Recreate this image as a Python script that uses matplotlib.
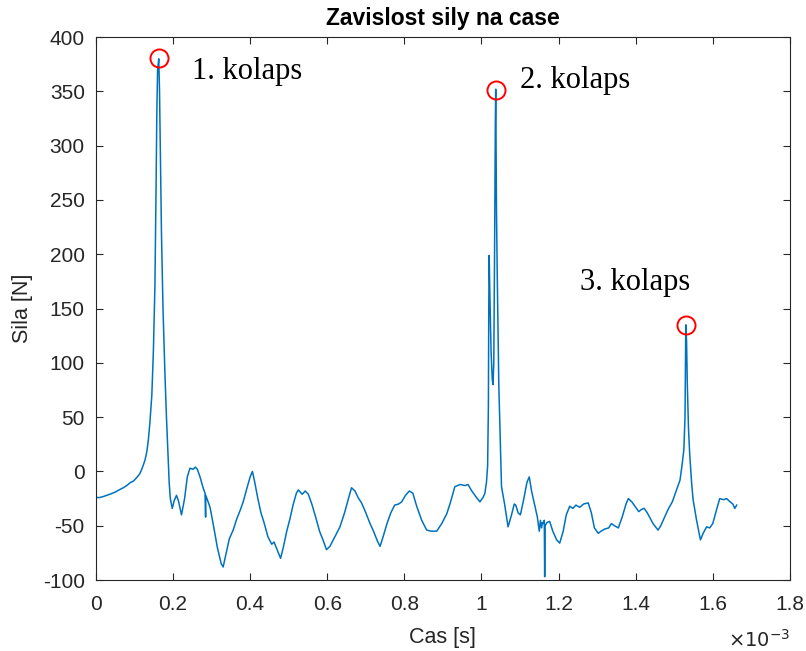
import matplotlib.pyplot as plt
from matplotlib.ticker import FuncFormatter, MultipleLocator

# cas v milisekundach (osa je v sekundach, x10^-3)
cas_ms = [
    0.000, 0.010, 0.020, 0.036, 0.050, 0.060, 0.071, 0.080, 0.090, 0.097,
    0.105, 0.114, 0.120, 0.127, 0.132, 0.136, 0.140, 0.145, 0.149, 0.153,
    0.156, 0.158, 0.160, 0.163, 0.165, 0.167, 0.170, 0.174, 0.179, 0.183,
    0.187, 0.190, 0.193, 0.198, 0.203, 0.209, 0.214, 0.222, 0.230, 0.237,
    0.244, 0.252, 0.258, 0.263, 0.270, 0.278, 0.283, 0.2845, 0.285, 0.290,
    0.296, 0.305, 0.315, 0.325, 0.330, 0.338, 0.346, 0.356, 0.365, 0.375,
    0.382, 0.392, 0.400, 0.406, 0.412, 0.420, 0.428, 0.436, 0.446, 0.456,
    0.462, 0.470, 0.479, 0.486, 0.495, 0.503, 0.512, 0.520, 0.525, 0.535,
    0.543, 0.551, 0.560, 0.570, 0.580, 0.590, 0.598, 0.607, 0.620, 0.633,
    0.645, 0.655, 0.663, 0.672, 0.680, 0.689, 0.700, 0.711, 0.720, 0.730,
    0.737, 0.745, 0.755, 0.765, 0.775, 0.785, 0.793, 0.803, 0.813, 0.822,
    0.832, 0.845, 0.858, 0.870, 0.884, 0.897, 0.910, 0.920, 0.931, 0.945,
    0.957, 0.965, 0.975, 0.985, 0.996, 1.004, 1.009, 1.013, 1.016, 1.018,
    1.019, 1.020, 1.022, 1.025, 1.028, 1.030, 1.032, 1.034, 1.036, 1.037,
    1.039, 1.041, 1.043, 1.045, 1.048, 1.050, 1.052, 1.060, 1.069, 1.078,
    1.085, 1.089, 1.095, 1.101, 1.110, 1.118, 1.124, 1.130, 1.138, 1.145,
    1.150, 1.153, 1.156, 1.158, 1.160, 1.163, 1.164, 1.165, 1.170, 1.177,
    1.185, 1.195, 1.203, 1.212, 1.220, 1.229, 1.237, 1.245, 1.255, 1.265,
    1.277, 1.285, 1.293, 1.303, 1.310, 1.320, 1.330, 1.337, 1.345, 1.355,
    1.365, 1.375, 1.381, 1.390, 1.400, 1.408, 1.415, 1.422, 1.430, 1.445,
    1.458, 1.465, 1.475, 1.484, 1.495, 1.505, 1.515, 1.520, 1.525, 1.528,
    1.530, 1.532, 1.534, 1.537, 1.540, 1.545, 1.549, 1.558, 1.568, 1.575,
    1.584, 1.592, 1.600, 1.610, 1.618, 1.628, 1.636, 1.645, 1.652, 1.657,
    1.662,
]
sila = [
    -24, -24, -23, -21, -19, -17, -15, -13, -10, -9,
    -6, -2, 3, 10, 18, 29, 45, 70, 110, 170,
    260, 330, 370, 380, 350, 300, 220, 150, 90, 50,
    15, -10, -25, -34, -27, -22, -27, -40, -25, -5,
    3, 2, 4, 2, -5, -15, -20, -42, -22, -27,
    -33, -50, -70, -85, -88, -75, -62, -54, -44, -35,
    -28, -15, -5, 0, -10, -25, -38, -47, -60, -67,
    -65, -72, -80, -70, -55, -44, -30, -20, -17, -21,
    -18, -21, -30, -42, -55, -64, -72, -69, -60, -51,
    -38, -25, -15, -18, -24, -29, -38, -48, -55, -64,
    -69, -60, -48, -38, -31, -30, -28, -22, -18, -20,
    -32, -45, -54, -55, -55, -48, -39, -28, -14, -12,
    -13, -12, -18, -23, -28, -24, -20, -10, 5, 60,
    150, 199, 160, 110, 85, 80, 100, 200, 320, 352,
    240, 180, 130, 80, 40, 10, -14, -30, -51, -40,
    -30, -31, -38, -40, -25, -10, -5, -18, -31, -42,
    -55, -45, -52, -47, -48, -45, -97, -50, -47, -46,
    -55, -63, -66, -55, -40, -32, -34, -31, -33, -30,
    -29, -38, -52, -57, -55, -53, -52, -48, -50, -52,
    -42, -30, -25, -28, -33, -37, -35, -34, -38, -48,
    -54, -50, -42, -35, -28, -18, -8, 5, 20, 50,
    135, 120, 80, 40, 17, -10, -26, -45, -63, -57,
    -51, -52, -48, -35, -25, -26, -25, -28, -30, -34,
    -31,
]

# kolapsy (vrcholy oznacene krouzkem)
kolaps_cas_ms = [0.163, 1.037, 1.531]
kolaps_sila = [381, 351, 135]
kolaps_popisky = ["1. kolaps", "2. kolaps", "3. kolaps"]
popisek_x_ms = [0.249, 1.100, 1.255]
popisek_y = [368, 360, 174]

plt.rcParams["font.family"] = ["Liberation Sans", "DejaVu Sans"]
plt.rcParams["axes.unicode_minus"] = False

fig = plt.figure(figsize=(8.06, 6.51), dpi=100)
ax = fig.add_axes([0.119, 0.109, 0.861, 0.834])

ax.plot([t * 1e-3 for t in cas_ms], sila, color="#0072BD", linewidth=1.1)
ax.plot([t * 1e-3 for t in kolaps_cas_ms], kolaps_sila, linestyle="none",
        marker="o", markersize=13, markerfacecolor="none",
        markeredgecolor="red", markeredgewidth=1.4)

for tx, ty, txt in zip(popisek_x_ms, popisek_y, kolaps_popisky):
    ax.text(tx * 1e-3, ty, txt, fontsize=22, family="Liberation Serif",
            va="center", ha="left", color="black")

ax.set_xlim(0, 1.8e-3)
ax.set_ylim(-100, 400)
ax.xaxis.set_major_locator(MultipleLocator(0.2e-3))
ax.yaxis.set_major_locator(MultipleLocator(50))
ax.xaxis.set_major_formatter(FuncFormatter(lambda v, p: f"{v * 1e3:g}"))

ax.tick_params(direction="in", top=True, right=True, labelsize=15,
               colors="#262626", length=5, width=0.8)
ax.tick_params(axis="x", pad=11)
ax.tick_params(axis="y", pad=8)
for s in ax.spines.values():
    s.set_color("#262626")
    s.set_linewidth(0.8)

ax.text(1.0, -0.11, r"$\times10^{-3}$", transform=ax.transAxes,
        ha="right", va="center", fontsize=14, color="#262626")

ax.set_title("Zavislost sily na case", fontsize=16.5, fontweight="bold", pad=9)
ax.set_xlabel("Cas [s]", fontsize=15.5, color="#262626", labelpad=9)
ax.set_ylabel("Sila [N]", fontsize=15.5, color="#262626", labelpad=7)

fig.savefig("out.png", dpi=100)
